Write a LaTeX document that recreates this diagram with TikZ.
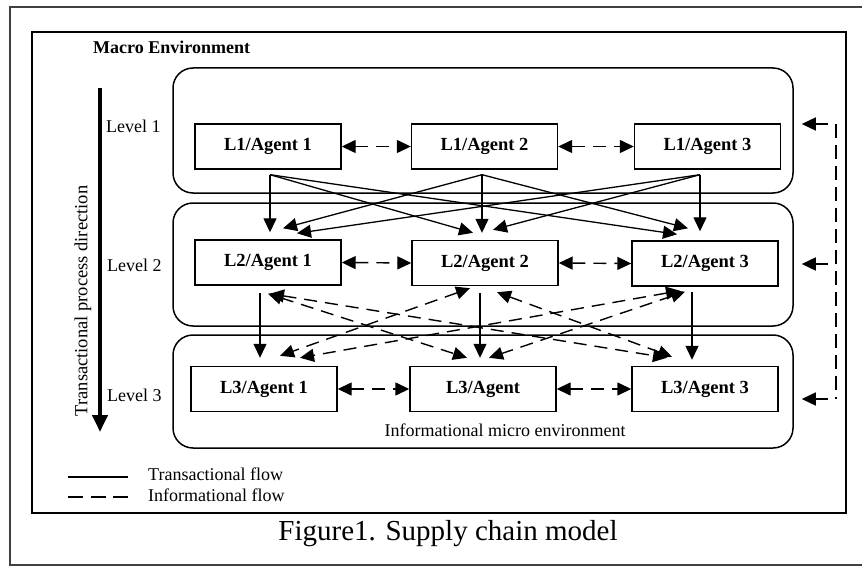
\documentclass[tikz,border=0pt]{standalone}
\usepackage{fontspec}
\setmainfont{Liberation Serif}
\usetikzlibrary{arrows.meta,calc}
\begin{document}
\begin{tikzpicture}[x=1pt,y=-1pt,
  agent/.style={draw,line width=1.4pt,minimum width=146pt,minimum height=45pt,inner sep=0pt,font=\fontsize{18.5}{20}\selectfont\bfseries},
  lvl/.style={draw,line width=1.5pt,rounded corners=20pt,minimum width=620pt,inner sep=0pt},
  trans/.style={line width=1.3pt,-{Triangle[length=14pt,width=13pt]}},
  info/.style={line width=1.4pt,dash pattern=on 13pt off 8pt},
  infoarr/.style={info,{Triangle[length=14pt,width=13pt]}-{Triangle[length=14pt,width=13pt]}},
  feed/.style={line width=1.4pt,-{Triangle[length=14pt,width=13pt]}},
  lab/.style={font=\fontsize{18}{20}\selectfont,inner sep=0pt}
]
\useasboundingbox (0,0) rectangle (862,567);
% frames
\draw[line width=1.3pt,black!75] (10,7) rectangle (868,565);
\draw[line width=1.7pt] (32,32) rectangle (846,513);
\node[anchor=west,inner sep=0pt,font=\fontsize{18}{20}\selectfont\bfseries] (macro) at (93,47) {Macro Environment};

% level boxes
\node[lvl,minimum height=125pt] (lvl1) at (483,130.5) {};
\node[lvl,minimum height=123pt] (lvl2) at (483,264.5) {};
\node[lvl,minimum height=113pt] (lvl3) at (483,391.5) {};

% level labels
\node[lab,anchor=west] (lab1) at (106,126) {Level 1};
\node[lab,anchor=west] (lab2) at (107,265) {Level 2};
\node[lab,anchor=west] (lab3) at (107,395) {Level 3};

% direction arrow
\coordinate (dirtop) at (100,88);
\coordinate (dirbot) at (100,432);
\draw[line width=4pt,-{Triangle[length=17pt,width=15pt]}] (dirtop) -- (dirbot);
\node[lab,rotate=90,font=\fontsize{18.5}{20}\selectfont] (dirlab) at (83,301) {Transactional process direction};

% agents
\node[agent] (A11) at (268,146.5) {L1/Agent 1};
\node[agent] (A12) at (484.5,146.5) {L1/Agent 2};
\node[agent] (A13) at (707.5,146.5) {L1/Agent 3};
\node[agent] (A21) at (268,262.5) {L2/Agent 1};
\node[agent] (A22) at (485,263) {L2/Agent 2};
\node[agent] (A23) at (705,263.5) {L2/Agent 3};
\node[agent] (A31) at (264,389) {L3/Agent 1};
\node[agent] (A32) at (483,389) {L3/Agent};
\node[agent] (A33) at (705,389) {L3/Agent 3};

\node[lab] (micro) at (505,430) {Informational micro environment};

% horizontal informational flows
\draw[infoarr] (A11.east) -- (A12.west);
\draw[infoarr] (A12.east) -- (A13.west);
\draw[infoarr] (A21.east) -- (A22.west);
\draw[infoarr] (A22.east) -- (A23.west);
\draw[infoarr] (A31.east) -- (A32.west);
\draw[infoarr] (A32.east) -- (A33.west);

% L1 -> L2 transactional flows
\coordinate (s11) at ($(A11.south)+(2,5)$);
\coordinate (s12) at ($(A12.south)+(-2.5,5)$);
\coordinate (s13) at ($(A13.south)+(-7.5,5)$);
\draw[trans] (s11) -- ($(A21.north)+(2,-7)$);
\draw[trans] (s12) -- ($(A21.north)+(15,-11)$);
\draw[trans] (s13) -- ($(A21.north)+(29,-6)$);
\draw[trans] (s11) -- ($(A22.north)+(-12,-7)$);
\draw[trans] (s12) -- ($(A22.north)+(-3,-7)$);
\draw[trans] (s13) -- ($(A22.north)+(8,-10)$);
\draw[trans] (s11) -- ($(A23.north)+(-28,-6)$);
\draw[trans] (s12) -- ($(A23.north)+(-17,-12)$);
\draw[trans] (s13) -- ($(A23.north)+(-5,-9)$);

% L2 -> L3 transactional flows
\draw[trans] ($(A21.south)+(-8,7)$) -- ($(A31.north)+(-4,-8)$);
\draw[trans] ($(A22.south)+(-5,7)$) -- ($(A32.north)+(-3,-8)$);
\draw[trans] ($(A23.south)+(-13,5)$) -- ($(A33.north)+(-13,-6)$);

% L2 <-> L3 informational flows
\draw[infoarr] ($(A21.south)+(0,8)$) -- ($(A32.north)+(-16,-8)$);
\draw[infoarr] ($(A21.south)+(2,8)$) -- ($(A33.north)+(-38,-8)$);
\draw[infoarr] ($(A22.south)+(-15,2)$) -- ($(A31.north)+(16,-10)$);
\draw[infoarr] ($(A22.south)+(12,6)$) -- ($(A33.north)+(-33,-9)$);
\draw[infoarr] ($(A23.south)+(-25,4)$) -- ($(A31.north)+(36,-8)$);
\draw[infoarr] ($(A23.south)+(-20,5)$) -- ($(A32.north)+(6,-8)$);

% macro informational feedback on the right
\coordinate (r1) at (836,124);
\coordinate (r2) at (836,264);
\coordinate (r3) at (836,399);
\coordinate (r1s) at (828,124);
\coordinate (r2s) at (828,264);
\coordinate (r3s) at (828,399);
\draw[line width=1.4pt,dash pattern=on 14pt off 7pt] (r1) -- (r3);
\draw[feed] (r1s) -- ($(lvl1.east |- r1)+(8,0)$);
\draw[feed] (r2s) -- ($(lvl2.east |- r2)+(8,0)$);
\draw[feed] (r3s) -- ($(lvl3.east |- r3)+(8,0)$);

% legend
\coordinate (lg1a) at (68,477);
\coordinate (lg1b) at (128,477);
\coordinate (lg2a) at (68,497);
\coordinate (lg2b) at (128,497);
\draw[line width=1.4pt] (lg1a) -- (lg1b);
\draw[line width=1.4pt,dash pattern=on 15pt off 7.5pt] (lg2a) -- (lg2b);
\node[lab,anchor=west] (lgt1) at (148,474) {Transactional flow};
\node[lab,anchor=west] (lgt2) at (148,495) {Informational flow};

% caption
\node[inner sep=0pt,font=\fontsize{29}{32}\selectfont] (cap) at (448,534) {Figure1. Supply chain model};
\end{tikzpicture}
\end{document}
